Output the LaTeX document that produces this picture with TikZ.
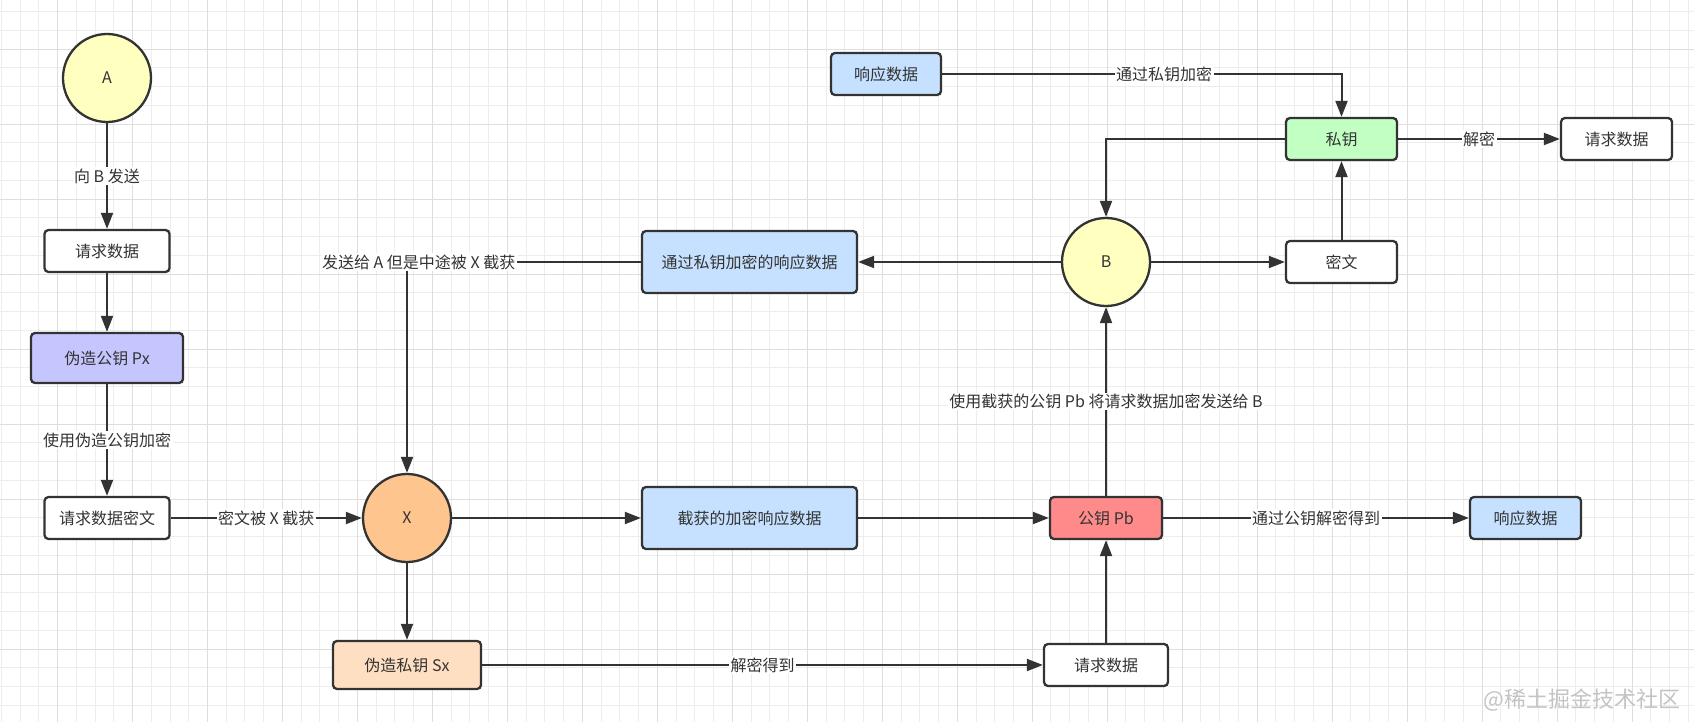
\documentclass[tikz,border=0pt]{standalone}
\usepackage{fontspec}
\setmainfont{Noto Sans CJK SC}
\usetikzlibrary{arrows.meta}
\definecolor{ink}{HTML}{333333}
\definecolor{gridminor}{HTML}{EDEDED}
\definecolor{gridmajor}{HTML}{DEDEDE}
\definecolor{cyellow}{HTML}{FFFFC0}
\definecolor{cpurple}{HTML}{C6C6FF}
\definecolor{corange}{HTML}{FFC58F}
\definecolor{cpeach}{HTML}{FFDFC2}
\definecolor{cblue}{HTML}{C6E1FF}
\definecolor{cgreen}{HTML}{C2FFC2}
\definecolor{cred}{HTML}{FF8A8A}
\definecolor{wmark}{HTML}{C4C4C4}
\begin{document}
\begin{tikzpicture}[x=1pt,y=-1pt,
  txt/.style={text=ink,font=\fontsize{16}{18}\selectfont},
  box/.style={txt,draw=ink,line width=2.3pt,rounded corners=4pt,inner sep=0pt,align=center,fill=white},
  circ/.style={txt,circle,draw=ink,line width=2.3pt,minimum size=88pt,inner sep=0pt},
  conn/.style={draw=ink,line width=2pt,-{Triangle[length=16pt,width=12pt]}},
  lbl/.style={txt,fill=white,inner sep=1.5pt}]
\useasboundingbox (0,0) rectangle (1694,722);
\fill[white] (0,0) rectangle (1694,722);
% grid
\foreach \i in {0,...,90} {\draw[gridminor,line width=0.9pt] ({1.256+18.744*\i},0) -- ++(0,722);}
\foreach \i in {0,...,38} {\draw[gridminor,line width=0.9pt] (0,{11.7+18.744*\i}) -- ++(1694,0);}
\foreach \i in {0,...,22} {\draw[gridmajor,line width=1pt] ({57.5+74.976*\i},0) -- ++(0,722);}
\foreach \i in {0,...,9} {\draw[gridmajor,line width=1pt] (0,{49.2+74.976*\i}) -- ++(1694,0);}

% nodes
\node[circ,fill=cyellow] (A) at (107,78) {A};
\node[box,minimum width=125pt,minimum height=42pt] (reqA) at (107,251) {请求数据};
\node[box,fill=cpurple,minimum width=152pt,minimum height=50pt] (Px) at (107,358) {伪造公钥 Px};
\node[box,minimum width=125pt,minimum height=42pt] (cipherA) at (107,518) {请求数据密文};
\node[circ,fill=corange] (X) at (407,518) {X};
\node[box,fill=cpeach,minimum width=148pt,minimum height=48pt] (Sx) at (407,665) {伪造私钥 Sx};
\node[box,fill=cblue,minimum width=215pt,minimum height=62pt] (respEnc) at (749.5,262) {通过私钥加密的响应数据};
\node[box,fill=cblue,minimum width=215pt,minimum height=62pt] (intercept) at (749.5,518) {截获的加密响应数据};
\node[circ,fill=cyellow] (B) at (1106,262) {B};
\node[box,fill=cblue,minimum width=110pt,minimum height=42pt] (respTop) at (886,74) {响应数据};
\node[box,fill=cgreen,minimum width=111pt,minimum height=42pt] (priv) at (1341.5,139) {私钥};
\node[box,minimum width=111pt,minimum height=42pt] (reqR) at (1616.5,139) {请求数据};
\node[box,minimum width=111pt,minimum height=42pt] (cipherB) at (1341.5,262) {密文};
\node[box,fill=cred,minimum width=112pt,minimum height=42pt] (Pb) at (1106,518) {公钥 Pb};
\node[box,fill=cblue,minimum width=111pt,minimum height=42pt] (respR) at (1525.5,518) {响应数据};
\node[box,minimum width=124pt,minimum height=42pt] (reqBot) at (1106,665) {请求数据};

% connectors
\draw[conn] (A) -- node[lbl] {向 B 发送} (reqA);
\draw[conn] (reqA) -- (Px);
\draw[conn] (Px) -- node[lbl] {使用伪造公钥加密} (cipherA);
\draw[conn] (cipherA) -- node[lbl] {密文被 X 截获} (X);
\draw[conn] (respEnc.west) -| node[lbl,pos=0.475] {发送给 A 但是中途被 X 截获} (X.north);
\draw[conn] (B) -- (respEnc);
\draw[conn] (B) -- (cipherB);
\draw[conn] (cipherB) -- (priv);
\draw[conn] (priv.west) -| (B.north);
\draw[conn] (respTop.east) -| node[lbl,pos=0.278] {通过私钥加密} (priv.north);
\draw[conn] (priv) -- node[lbl] {解密} (reqR);
\draw[conn] (X) -- (intercept);
\draw[conn] (X) -- (Sx);
\draw[conn] (intercept) -- (Pb);
\draw[conn] (Pb) -- node[lbl] {使用截获的公钥 Pb 将请求数据加密发送给 B} (B);
\draw[conn] (Pb) -- node[lbl] {通过公钥解密得到} (respR);
\draw[conn] (Sx) -- node[lbl] {解密得到} (reqBot);
\draw[conn] (reqBot) -- (Pb);

% watermark
\node[text=wmark,font=\fontsize{22}{24}\selectfont,inner sep=0pt] (wm) at (1582,700) {@稀土掘金技术社区};
\end{tikzpicture}
\end{document}
